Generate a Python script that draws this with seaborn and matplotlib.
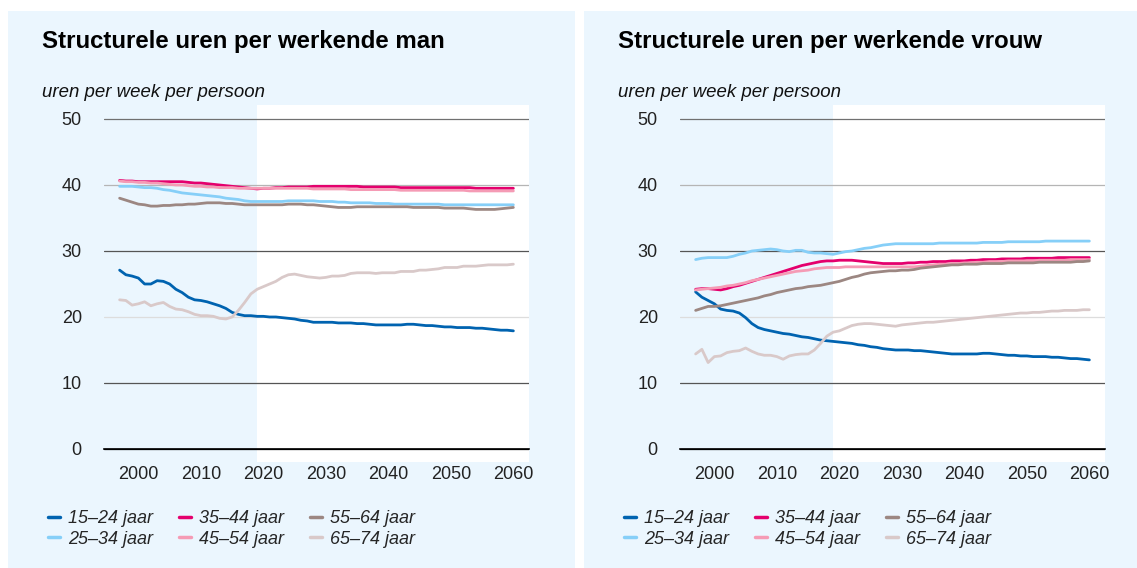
import matplotlib
matplotlib.use("Agg")
import matplotlib.pyplot as plt
from matplotlib.patches import Rectangle
import seaborn as sns
import pandas as pd

# Years and age groups
years = list(range(1997, 2061))
groups = ["15–24 jaar", "25–34 jaar", "35–44 jaar", "45–54 jaar", "55–64 jaar", "65–74 jaar"]
colors = ["#0063B0", "#86CFF8", "#E4006D", "#F59BB5", "#9C8782", "#D9C9C9"]

# Men, hours per week
man_15_24 = [27.1, 26.4, 26.2, 25.9, 25.0, 25.0, 25.5, 25.4, 25.0, 24.2, 23.7, 23.0, 22.6, 22.5, 22.3, 22.0,
             21.7, 21.3, 20.7, 20.4, 20.2, 20.2, 20.1, 20.1, 20.0, 20.0, 19.9, 19.8, 19.7, 19.5, 19.4, 19.2,
             19.2, 19.2, 19.2, 19.1, 19.1, 19.1, 19.0, 19.0, 18.9, 18.8, 18.8, 18.8, 18.8, 18.8, 18.9, 18.9,
             18.8, 18.7, 18.7, 18.6, 18.5, 18.5, 18.4, 18.4, 18.4, 18.3, 18.3, 18.2, 18.1, 18.0, 18.0, 17.9]
man_25_34 = [39.8, 39.8, 39.8, 39.7, 39.6, 39.6, 39.5, 39.3, 39.2, 39.0, 38.8, 38.7, 38.6, 38.5, 38.4, 38.3,
             38.2, 38.0, 37.9, 37.8, 37.6, 37.5, 37.5, 37.5, 37.5, 37.5, 37.5, 37.6, 37.6, 37.6, 37.6, 37.6,
             37.5, 37.5, 37.5, 37.4, 37.4, 37.3, 37.3, 37.3, 37.3, 37.2, 37.2, 37.2, 37.1, 37.1, 37.1, 37.1,
             37.1, 37.1, 37.1, 37.1, 37.0, 37.0, 37.0, 37.0, 37.0, 37.0, 37.0, 37.0, 37.0, 37.0, 37.0, 37.0]
man_35_44 = [40.7, 40.6, 40.6, 40.5, 40.5, 40.5, 40.5, 40.5, 40.5, 40.5, 40.5, 40.4, 40.3, 40.3, 40.2, 40.1,
             40.0, 39.9, 39.8, 39.7, 39.6, 39.5, 39.4, 39.5, 39.5, 39.6, 39.6, 39.7, 39.7, 39.7, 39.7, 39.8,
             39.8, 39.8, 39.8, 39.8, 39.8, 39.8, 39.8, 39.7, 39.7, 39.7, 39.7, 39.7, 39.7, 39.6, 39.6, 39.6,
             39.6, 39.6, 39.6, 39.6, 39.6, 39.6, 39.6, 39.6, 39.6, 39.5, 39.5, 39.5, 39.5, 39.5, 39.5, 39.5]
man_45_54 = [40.6, 40.5, 40.5, 40.4, 40.4, 40.3, 40.3, 40.2, 40.1, 40.0, 40.0, 39.9, 39.8, 39.8, 39.7, 39.7,
             39.6, 39.6, 39.6, 39.5, 39.5, 39.5, 39.5, 39.5, 39.5, 39.5, 39.5, 39.5, 39.5, 39.5, 39.5, 39.4,
             39.4, 39.4, 39.4, 39.4, 39.4, 39.3, 39.3, 39.3, 39.3, 39.3, 39.3, 39.3, 39.3, 39.2, 39.2, 39.2,
             39.2, 39.2, 39.2, 39.2, 39.2, 39.2, 39.2, 39.2, 39.1, 39.1, 39.1, 39.1, 39.1, 39.1, 39.1, 39.1]
man_55_64 = [38.0, 37.7, 37.4, 37.1, 37.0, 36.8, 36.8, 36.9, 36.9, 37.0, 37.0, 37.1, 37.1, 37.2, 37.3, 37.3,
             37.3, 37.2, 37.2, 37.1, 37.0, 37.0, 37.0, 37.0, 37.0, 37.0, 37.0, 37.1, 37.1, 37.1, 37.0, 37.0,
             36.9, 36.8, 36.7, 36.6, 36.6, 36.6, 36.7, 36.7, 36.7, 36.7, 36.7, 36.7, 36.7, 36.7, 36.7, 36.6,
             36.6, 36.6, 36.6, 36.6, 36.5, 36.5, 36.5, 36.5, 36.4, 36.3, 36.3, 36.3, 36.3, 36.4, 36.5, 36.6]
man_65_74 = [22.6, 22.5, 21.8, 22.0, 22.3, 21.7, 22.0, 22.2, 21.6, 21.2, 21.1, 20.8, 20.4, 20.2, 20.2, 20.1,
             19.8, 19.7, 20.0, 21.0, 22.2, 23.5, 24.2, 24.6, 25.0, 25.4, 26.0, 26.4, 26.5, 26.3, 26.1, 26.0,
             25.9, 26.0, 26.2, 26.2, 26.3, 26.6, 26.7, 26.7, 26.7, 26.6, 26.7, 26.7, 26.7, 26.9, 26.9, 26.9,
             27.1, 27.1, 27.2, 27.3, 27.5, 27.5, 27.5, 27.7, 27.7, 27.7, 27.8, 27.9, 27.9, 27.9, 27.9, 28.0]

# Women, hours per week
vrouw_15_24 = [23.8, 23.0, 22.5, 22.0, 21.2, 21.0, 20.9, 20.6, 19.9, 19.0, 18.4, 18.1, 17.9, 17.7, 17.5, 17.4,
               17.2, 17.0, 16.9, 16.7, 16.5, 16.4, 16.3, 16.2, 16.1, 16.0, 15.8, 15.7, 15.5, 15.4, 15.2, 15.1,
               15.0, 15.0, 15.0, 14.9, 14.9, 14.8, 14.7, 14.6, 14.5, 14.4, 14.4, 14.4, 14.4, 14.4, 14.5, 14.5,
               14.4, 14.3, 14.2, 14.2, 14.1, 14.1, 14.0, 14.0, 14.0, 13.9, 13.9, 13.8, 13.7, 13.7, 13.6, 13.5]
vrouw_25_34 = [28.7, 28.9, 29.0, 29.0, 29.0, 29.0, 29.2, 29.5, 29.7, 30.0, 30.1, 30.2, 30.3, 30.2, 30.0, 29.9,
               30.1, 30.1, 29.8, 29.7, 29.7, 29.6, 29.5, 29.7, 29.9, 30.0, 30.2, 30.4, 30.5, 30.7, 30.9, 31.0,
               31.1, 31.1, 31.1, 31.1, 31.1, 31.1, 31.1, 31.2, 31.2, 31.2, 31.2, 31.2, 31.2, 31.2, 31.3, 31.3,
               31.3, 31.3, 31.4, 31.4, 31.4, 31.4, 31.4, 31.4, 31.5, 31.5, 31.5, 31.5, 31.5, 31.5, 31.5, 31.5]
vrouw_35_44 = [24.2, 24.3, 24.3, 24.2, 24.1, 24.3, 24.6, 24.8, 25.1, 25.4, 25.7, 26.0, 26.3, 26.6, 26.9, 27.2,
               27.5, 27.8, 28.0, 28.2, 28.4, 28.5, 28.5, 28.6, 28.6, 28.6, 28.5, 28.4, 28.3, 28.2, 28.1, 28.1,
               28.1, 28.1, 28.2, 28.2, 28.3, 28.3, 28.4, 28.4, 28.4, 28.5, 28.5, 28.5, 28.6, 28.6, 28.7, 28.7,
               28.7, 28.8, 28.8, 28.8, 28.8, 28.9, 28.9, 28.9, 28.9, 28.9, 29.0, 29.0, 29.0, 29.0, 29.0, 29.0]
vrouw_45_54 = [24.1, 24.2, 24.3, 24.4, 24.5, 24.7, 24.8, 25.0, 25.2, 25.5, 25.7, 25.9, 26.1, 26.3, 26.5, 26.7,
               26.9, 27.0, 27.1, 27.3, 27.4, 27.5, 27.5, 27.5, 27.6, 27.6, 27.6, 27.6, 27.6, 27.6, 27.6, 27.6,
               27.6, 27.6, 27.6, 27.6, 27.7, 27.8, 27.9, 28.0, 28.0, 28.1, 28.1, 28.2, 28.2, 28.3, 28.3, 28.4,
               28.4, 28.4, 28.5, 28.5, 28.5, 28.5, 28.5, 28.6, 28.6, 28.6, 28.6, 28.6, 28.7, 28.7, 28.7, 28.7]
vrouw_55_64 = [21.0, 21.3, 21.6, 21.6, 21.7, 21.9, 22.1, 22.3, 22.5, 22.7, 22.9, 23.2, 23.4, 23.7, 23.9, 24.1,
               24.3, 24.4, 24.6, 24.7, 24.8, 25.0, 25.2, 25.4, 25.7, 26.0, 26.2, 26.5, 26.7, 26.8, 26.9, 27.0,
               27.0, 27.1, 27.1, 27.2, 27.4, 27.5, 27.6, 27.7, 27.8, 27.9, 27.9, 28.0, 28.0, 28.0, 28.1, 28.1,
               28.1, 28.1, 28.2, 28.2, 28.2, 28.2, 28.2, 28.3, 28.3, 28.3, 28.3, 28.3, 28.3, 28.4, 28.4, 28.5]
vrouw_65_74 = [14.4, 15.1, 13.1, 14.0, 14.1, 14.6, 14.8, 14.9, 15.3, 14.8, 14.4, 14.2, 14.2, 14.0, 13.6, 14.1,
               14.3, 14.4, 14.4, 15.0, 16.0, 17.1, 17.7, 17.9, 18.3, 18.7, 18.9, 19.0, 19.0, 18.9, 18.8, 18.7,
               18.6, 18.8, 18.9, 19.0, 19.1, 19.2, 19.2, 19.3, 19.4, 19.5, 19.6, 19.7, 19.8, 19.9, 20.0, 20.1,
               20.2, 20.3, 20.4, 20.5, 20.6, 20.6, 20.7, 20.7, 20.8, 20.9, 20.9, 21.0, 21.0, 21.0, 21.1, 21.1]

man_series = [man_15_24, man_25_34, man_35_44, man_45_54, man_55_64, man_65_74]
vrouw_series = [vrouw_15_24, vrouw_25_34, vrouw_35_44, vrouw_45_54, vrouw_55_64, vrouw_65_74]

yticks = [0, 10, 20, 30, 40, 50]
xticks = [2000, 2010, 2020, 2030, 2040, 2050, 2060]
projection_start = 2019

PANEL_BG = "#EBF6FE"
W, H = 1137, 568


def to_long(series_list):
    frames = []
    for name, values in zip(groups, series_list):
        frames.append(pd.DataFrame({"jaar": years, "uren": values, "groep": name}))
    return pd.concat(frames, ignore_index=True)


sns.set_style("white")
plt.rcParams["font.family"] = ["Liberation Sans", "DejaVu Sans"]

fig = plt.figure(figsize=(W / 100, H / 100), dpi=100)
fig.patch.set_facecolor("white")

# light blue panel backgrounds
fig.patches.append(Rectangle((8 / W, 0), (575 - 8) / W, 1 - 11 / H, transform=fig.transFigure,
                             facecolor=PANEL_BG, edgecolor="none", zorder=-10))
fig.patches.append(Rectangle((584 / W, 0), (W - 584) / W, 1 - 11 / H, transform=fig.transFigure,
                             facecolor=PANEL_BG, edgecolor="none", zorder=-10))

panels = [
    (104, "Structurele uren per werkende man", man_series, 0),
    (680, "Structurele uren per werkende vrouw", vrouw_series, 576),
]

grid_colors = ["#000000", "#555555", "#dddddd", "#555555", "#b5b5b5", "#707070"]

for left_px, title, series_list, offset in panels:
    ax = fig.add_axes([left_px / W, (H - 462) / H, 425 / W, 357 / H])
    ax.set_facecolor("none")
    ax.set_xlim(1994.5, 2062.5)
    ax.set_ylim(-1.97, 52.12)

    # white area for the projection period
    ax.axvspan(projection_start, 2062.5, facecolor="white", edgecolor="none", zorder=0)

    df = to_long(series_list)
    sns.lineplot(data=df, x="jaar", y="uren", hue="groep", palette=colors,
                 linewidth=2.0, ax=ax, legend=False, zorder=3)

    ax.set_yticks(yticks)
    ax.set_xticks(xticks)
    ax.set_xlabel("")
    ax.set_ylabel("")
    ax.yaxis.grid(True, linewidth=0.9)
    for line, c in zip(ax.get_ygridlines(), grid_colors):
        line.set_color(c)
    ax.set_axisbelow(True)

    for side in ["left", "right", "top"]:
        ax.spines[side].set_visible(False)
    ax.spines["bottom"].set_position(("data", 0))
    ax.spines["bottom"].set_color("black")
    ax.spines["bottom"].set_linewidth(1.2)
    ax.spines["bottom"].set_zorder(4)

    ax.tick_params(axis="y", length=0, pad=16, labelsize=13, labelcolor="#222222")
    ax.tick_params(axis="x", length=4, width=0.8, color="#444444", direction="out",
                   pad=8, labelsize=13, labelcolor="#222222")

    fig.text((41.5 + offset) / W, 1 - 48 / H, title, fontsize=17.3, fontweight="bold",
             ha="left", va="baseline", color="black")
    fig.text((41.5 + offset) / W, 1 - 97 / H, "uren per week per persoon", fontsize=13.4,
             style="italic", ha="left", va="baseline", color="#111111")

    handles = [plt.Line2D([], [], color=c, linewidth=2.5) for c in colors]
    fig.legend(handles, groups, loc="upper left",
               bbox_to_anchor=((48 + offset) / W, 1 - 510 / H),
               ncol=3, frameon=False, prop={"size": 13, "style": "italic"},
               handlelength=0.66, handletextpad=0.46, columnspacing=1.42,
               labelspacing=0.2, borderpad=0, borderaxespad=0)

fig.savefig("out.png", dpi=100, facecolor=fig.get_facecolor())
